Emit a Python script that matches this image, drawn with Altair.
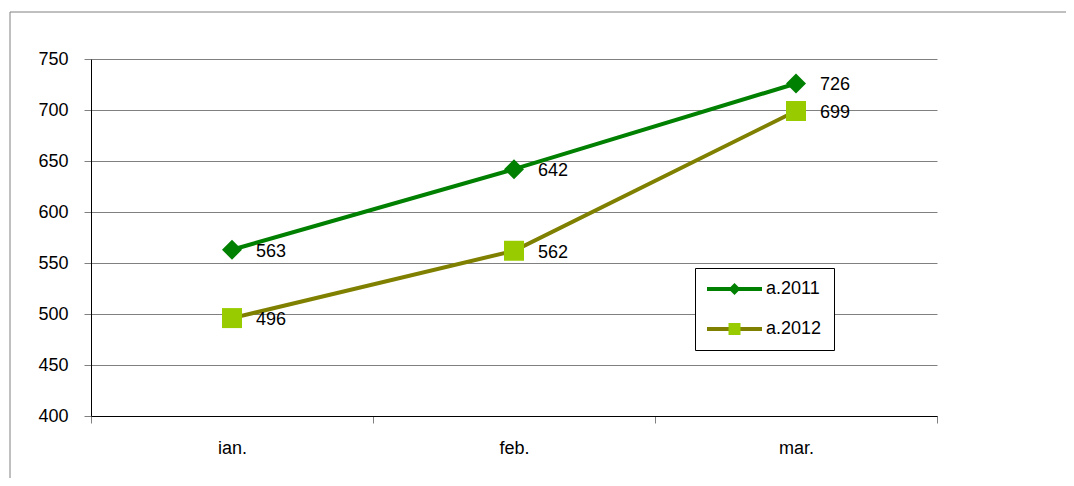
import altair as alt
import pandas as pd

months = ["ian.", "feb.", "mar."]
series_names = ["a.2011", "a.2012"]
values_2011 = [563, 642, 726]
values_2012 = [496, 562, 699]
y_ticks = [400, 450, 500, 550, 600, 650, 700, 750]

rows = []
for s, vals in zip(series_names, [values_2011, values_2012]):
    for m, v in zip(months, vals):
        rows.append({"month": m, "series": s, "marker": s, "value": v})
df = pd.DataFrame(rows)

FONT = "Liberation Sans"
LINE_COLORS = ["#008000", "#808000"]
MARK_COLORS = ["#008000", "#99CC00"]

x_enc = alt.X(
    "month:N",
    sort=months,
    bandPosition=0.5,
    scale=alt.Scale(type="band", paddingInner=0, paddingOuter=0),
    axis=alt.Axis(
        title=None, tickBand="extent", tickSize=7, tickColor="#808080",
        domainColor="black", labelFontSize=18, labelFont=FONT, labelColor="black",
        labelPadding=16, labelAngle=0, grid=False,
    ),
)
y_enc = alt.Y(
    "value:Q",
    scale=alt.Scale(domain=[400, 750], nice=False, zero=False),
    axis=alt.Axis(
        title=None, values=y_ticks, tickSize=7, tickColor="#808080",
        domainColor="black", gridColor="#808080", grid=True,
        labelFontSize=18, labelFont=FONT, labelColor="black", labelPadding=16,
    ),
)

base = alt.Chart(df).encode(x=x_enc, y=y_enc)

leg1 = alt.Legend(
    title=None, orient="none", legendX=604, legendY=209,
    symbolType="M-5,0H5", symbolSize=121, symbolStrokeWidth=4, symbolOffset=18.5,
    labelFontSize=18, labelFont=FONT, labelColor="black", labelOffset=22.5,
    padding=12, strokeColor="black", fillColor="white", rowPadding=22,
)
lines = base.mark_line(strokeWidth=4).encode(
    stroke=alt.Stroke("series:N", scale=alt.Scale(domain=series_names, range=LINE_COLORS), legend=leg1)
)

leg2 = alt.Legend(
    title=None, orient="none", legendX=604, legendY=209,
    symbolSize=144, symbolOffset=18.5, symbolStrokeWidth=0,
    labelFontSize=18, labelFont=FONT, labelColor="transparent",
    labelOffset=22, padding=12, rowPadding=22,
)
points = base.mark_point(filled=True, size=400, opacity=1).encode(
    fill=alt.Fill("marker:N", scale=alt.Scale(domain=series_names, range=MARK_COLORS), legend=leg2),
    shape=alt.Shape("marker:N", scale=alt.Scale(domain=series_names, range=["diamond", "square"]), legend=leg2),
)

labels = base.mark_text(align="left", baseline="middle", dx=24, dy=2, fontSize=18, font=FONT, color="black").encode(
    text="value:Q"
)

border = alt.Chart(pd.DataFrame({"a": [0]})).mark_rect(fill=None, stroke="#808080", strokeWidth=1).encode(
    x=alt.value(-81), x2=alt.value(1200), y=alt.value(-47), y2=alt.value(700)
)

chart = alt.layer(border, lines, points, labels).resolve_scale(
    stroke="independent", fill="independent", shape="independent"
).properties(
    width=846, height=357,
    padding={"left": 83, "top": 51, "right": 129, "bottom": 62},
    autosize=alt.AutoSizeParams(type="none"),
).configure_view(stroke=None)

chart.save("out.html", embed_options={"renderer": "svg", "actions": False})
